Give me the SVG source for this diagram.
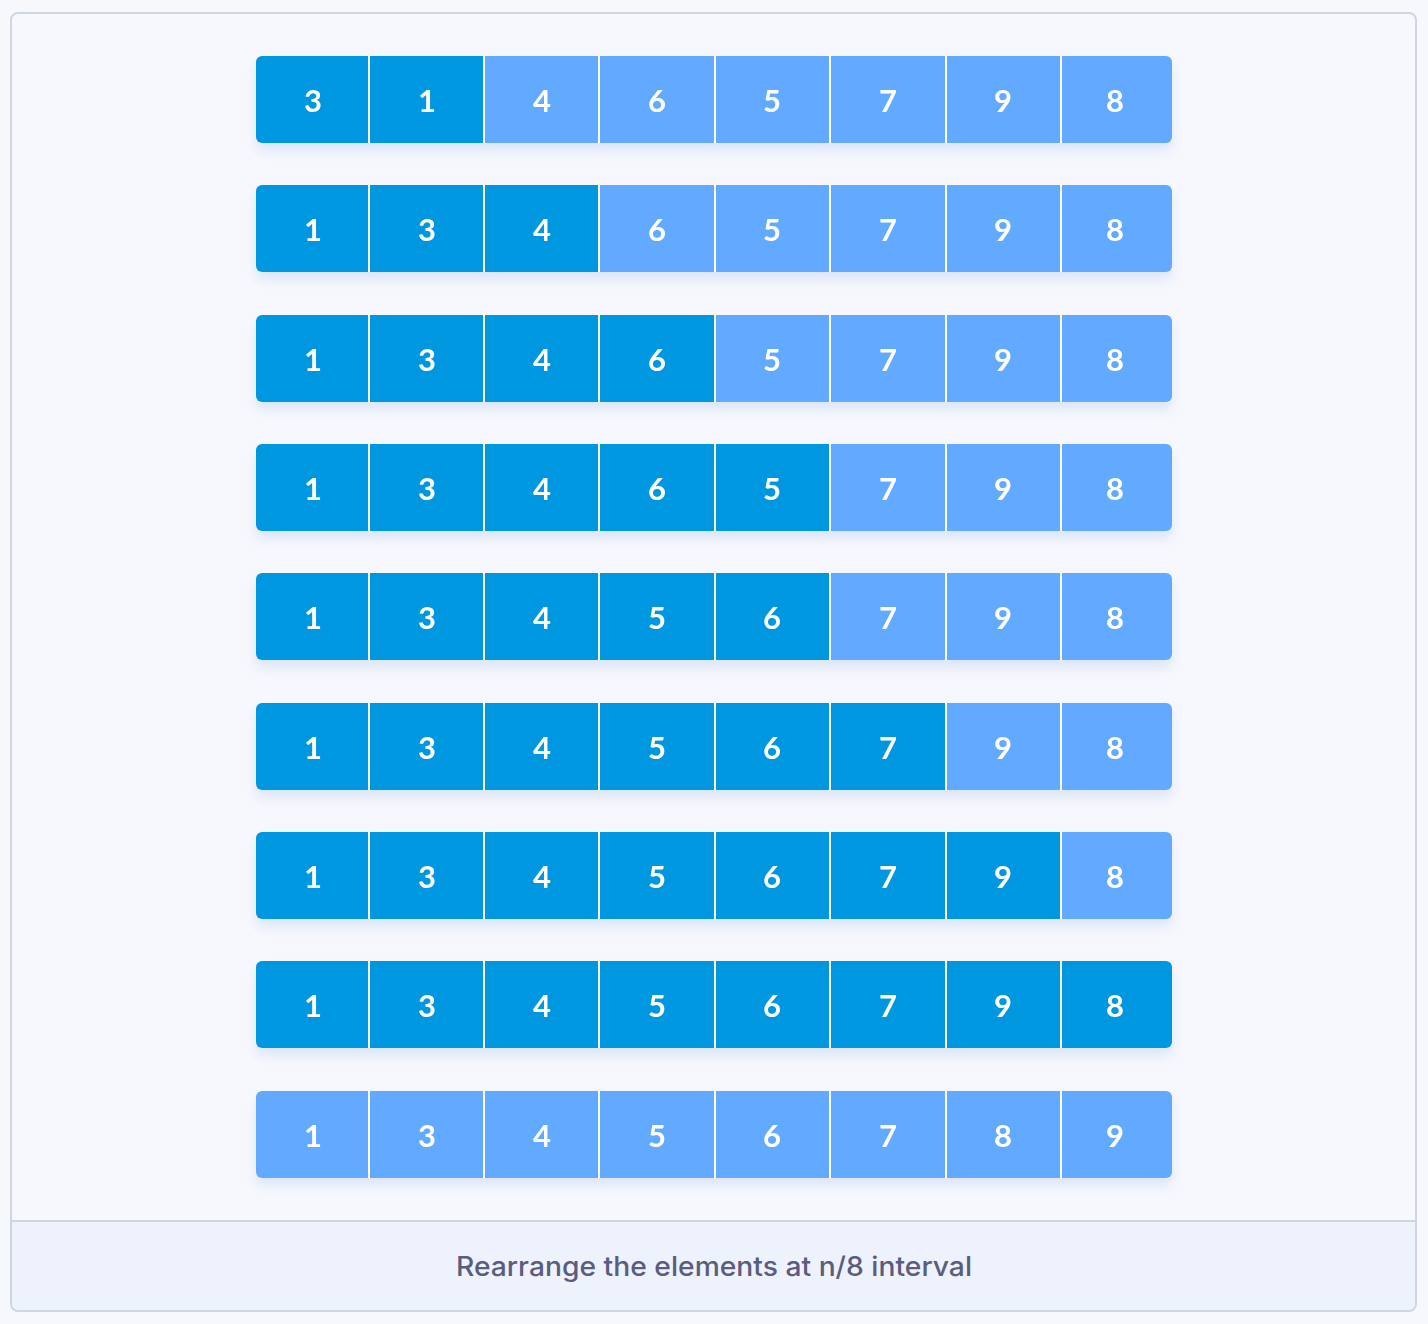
<svg xmlns="http://www.w3.org/2000/svg" width="1428" height="1324" viewBox="0 0 1428 1324">
<defs>
<style>
.d{fill:#0097e1}
.l{fill:#62aaff}
.sep{stroke:#ffffff;stroke-width:2}
.t{font-family:"Lato","Noto Sans",sans-serif;font-weight:700;font-size:31px;fill:#ffffff;text-anchor:middle;dominant-baseline:central}
.cap{font-family:"Inter","Noto Sans",sans-serif;font-weight:500;font-size:27px;fill:#5a5d7d;text-anchor:middle}
</style>
<filter id="sh" x="-10%" y="-20%" width="120%" height="160%">
<feDropShadow dx="0" dy="8" stdDeviation="6" flood-color="#aac4ee" flood-opacity="0.35"/>
</filter>
<clipPath id="rc"><rect x="0" y="0" width="916" height="87" rx="6"/></clipPath>
</defs>
<rect width="1428" height="1324" fill="#f7f8fc"/>
<rect x="11" y="13" width="1405" height="1298" rx="7" fill="#f7f8fd" stroke="#cdd6e1" stroke-width="2"/>
<path d="M12 1221 H1415 V1303 a7 7 0 0 1 -7 7 H19 a7 7 0 0 1 -7 -7 Z" fill="#eef2fd"/>
<line x1="11" y1="1221" x2="1416" y2="1221" stroke="#cdd6e1" stroke-width="2"/>
<text class="cap" x="714" y="1276" textLength="516" lengthAdjust="spacingAndGlyphs">Rearrange the elements at n/8 interval</text>

<g id="row1" transform="translate(256,56)" filter="url(#sh)">
<g clip-path="url(#rc)">
<rect class="d" x="0" y="0" width="228" height="87"/><rect class="l" x="228" y="0" width="688" height="87"/>
</g>
<g class="sep"><line x1="113" y1="0" x2="113" y2="87"/><line x1="228" y1="0" x2="228" y2="87"/><line x1="343" y1="0" x2="343" y2="87"/><line x1="459" y1="0" x2="459" y2="87"/><line x1="574" y1="0" x2="574" y2="87"/><line x1="690" y1="0" x2="690" y2="87"/><line x1="805" y1="0" x2="805" y2="87"/></g>
<text class="t" x="57" y="44">3</text><text class="t" x="171" y="44">1</text><text class="t" x="286" y="44">4</text><text class="t" x="401" y="44">6</text><text class="t" x="516" y="44">5</text><text class="t" x="632" y="44">7</text><text class="t" x="747" y="44">9</text><text class="t" x="859" y="44">8</text>
</g>

<g id="row2" transform="translate(256,185)" filter="url(#sh)">
<g clip-path="url(#rc)">
<rect class="d" x="0" y="0" width="343" height="87"/><rect class="l" x="343" y="0" width="573" height="87"/>
</g>
<g class="sep"><line x1="113" y1="0" x2="113" y2="87"/><line x1="228" y1="0" x2="228" y2="87"/><line x1="343" y1="0" x2="343" y2="87"/><line x1="459" y1="0" x2="459" y2="87"/><line x1="574" y1="0" x2="574" y2="87"/><line x1="690" y1="0" x2="690" y2="87"/><line x1="805" y1="0" x2="805" y2="87"/></g>
<text class="t" x="57" y="44">1</text><text class="t" x="171" y="44">3</text><text class="t" x="286" y="44">4</text><text class="t" x="401" y="44">6</text><text class="t" x="516" y="44">5</text><text class="t" x="632" y="44">7</text><text class="t" x="747" y="44">9</text><text class="t" x="859" y="44">8</text>
</g>

<g id="row3" transform="translate(256,315)" filter="url(#sh)">
<g clip-path="url(#rc)">
<rect class="d" x="0" y="0" width="459" height="87"/><rect class="l" x="459" y="0" width="457" height="87"/>
</g>
<g class="sep"><line x1="113" y1="0" x2="113" y2="87"/><line x1="228" y1="0" x2="228" y2="87"/><line x1="343" y1="0" x2="343" y2="87"/><line x1="459" y1="0" x2="459" y2="87"/><line x1="574" y1="0" x2="574" y2="87"/><line x1="690" y1="0" x2="690" y2="87"/><line x1="805" y1="0" x2="805" y2="87"/></g>
<text class="t" x="57" y="44">1</text><text class="t" x="171" y="44">3</text><text class="t" x="286" y="44">4</text><text class="t" x="401" y="44">6</text><text class="t" x="516" y="44">5</text><text class="t" x="632" y="44">7</text><text class="t" x="747" y="44">9</text><text class="t" x="859" y="44">8</text>
</g>

<g id="row4" transform="translate(256,444)" filter="url(#sh)">
<g clip-path="url(#rc)">
<rect class="d" x="0" y="0" width="574" height="87"/><rect class="l" x="574" y="0" width="342" height="87"/>
</g>
<g class="sep"><line x1="113" y1="0" x2="113" y2="87"/><line x1="228" y1="0" x2="228" y2="87"/><line x1="343" y1="0" x2="343" y2="87"/><line x1="459" y1="0" x2="459" y2="87"/><line x1="574" y1="0" x2="574" y2="87"/><line x1="690" y1="0" x2="690" y2="87"/><line x1="805" y1="0" x2="805" y2="87"/></g>
<text class="t" x="57" y="44">1</text><text class="t" x="171" y="44">3</text><text class="t" x="286" y="44">4</text><text class="t" x="401" y="44">6</text><text class="t" x="516" y="44">5</text><text class="t" x="632" y="44">7</text><text class="t" x="747" y="44">9</text><text class="t" x="859" y="44">8</text>
</g>

<g id="row5" transform="translate(256,573)" filter="url(#sh)">
<g clip-path="url(#rc)">
<rect class="d" x="0" y="0" width="574" height="87"/><rect class="l" x="574" y="0" width="342" height="87"/>
</g>
<g class="sep"><line x1="113" y1="0" x2="113" y2="87"/><line x1="228" y1="0" x2="228" y2="87"/><line x1="343" y1="0" x2="343" y2="87"/><line x1="459" y1="0" x2="459" y2="87"/><line x1="574" y1="0" x2="574" y2="87"/><line x1="690" y1="0" x2="690" y2="87"/><line x1="805" y1="0" x2="805" y2="87"/></g>
<text class="t" x="57" y="44">1</text><text class="t" x="171" y="44">3</text><text class="t" x="286" y="44">4</text><text class="t" x="401" y="44">5</text><text class="t" x="516" y="44">6</text><text class="t" x="632" y="44">7</text><text class="t" x="747" y="44">9</text><text class="t" x="859" y="44">8</text>
</g>

<g id="row6" transform="translate(256,703)" filter="url(#sh)">
<g clip-path="url(#rc)">
<rect class="d" x="0" y="0" width="690" height="87"/><rect class="l" x="690" y="0" width="226" height="87"/>
</g>
<g class="sep"><line x1="113" y1="0" x2="113" y2="87"/><line x1="228" y1="0" x2="228" y2="87"/><line x1="343" y1="0" x2="343" y2="87"/><line x1="459" y1="0" x2="459" y2="87"/><line x1="574" y1="0" x2="574" y2="87"/><line x1="690" y1="0" x2="690" y2="87"/><line x1="805" y1="0" x2="805" y2="87"/></g>
<text class="t" x="57" y="44">1</text><text class="t" x="171" y="44">3</text><text class="t" x="286" y="44">4</text><text class="t" x="401" y="44">5</text><text class="t" x="516" y="44">6</text><text class="t" x="632" y="44">7</text><text class="t" x="747" y="44">9</text><text class="t" x="859" y="44">8</text>
</g>

<g id="row7" transform="translate(256,832)" filter="url(#sh)">
<g clip-path="url(#rc)">
<rect class="d" x="0" y="0" width="805" height="87"/><rect class="l" x="805" y="0" width="111" height="87"/>
</g>
<g class="sep"><line x1="113" y1="0" x2="113" y2="87"/><line x1="228" y1="0" x2="228" y2="87"/><line x1="343" y1="0" x2="343" y2="87"/><line x1="459" y1="0" x2="459" y2="87"/><line x1="574" y1="0" x2="574" y2="87"/><line x1="690" y1="0" x2="690" y2="87"/><line x1="805" y1="0" x2="805" y2="87"/></g>
<text class="t" x="57" y="44">1</text><text class="t" x="171" y="44">3</text><text class="t" x="286" y="44">4</text><text class="t" x="401" y="44">5</text><text class="t" x="516" y="44">6</text><text class="t" x="632" y="44">7</text><text class="t" x="747" y="44">9</text><text class="t" x="859" y="44">8</text>
</g>

<g id="row8" transform="translate(256,961)" filter="url(#sh)">
<g clip-path="url(#rc)">
<rect class="d" x="0" y="0" width="916" height="87"/>
</g>
<g class="sep"><line x1="113" y1="0" x2="113" y2="87"/><line x1="228" y1="0" x2="228" y2="87"/><line x1="343" y1="0" x2="343" y2="87"/><line x1="459" y1="0" x2="459" y2="87"/><line x1="574" y1="0" x2="574" y2="87"/><line x1="690" y1="0" x2="690" y2="87"/><line x1="805" y1="0" x2="805" y2="87"/></g>
<text class="t" x="57" y="44">1</text><text class="t" x="171" y="44">3</text><text class="t" x="286" y="44">4</text><text class="t" x="401" y="44">5</text><text class="t" x="516" y="44">6</text><text class="t" x="632" y="44">7</text><text class="t" x="747" y="44">9</text><text class="t" x="859" y="44">8</text>
</g>

<g id="row9" transform="translate(256,1091)" filter="url(#sh)">
<g clip-path="url(#rc)">
<rect class="l" x="0" y="0" width="916" height="87"/>
</g>
<g class="sep"><line x1="113" y1="0" x2="113" y2="87"/><line x1="228" y1="0" x2="228" y2="87"/><line x1="343" y1="0" x2="343" y2="87"/><line x1="459" y1="0" x2="459" y2="87"/><line x1="574" y1="0" x2="574" y2="87"/><line x1="690" y1="0" x2="690" y2="87"/><line x1="805" y1="0" x2="805" y2="87"/></g>
<text class="t" x="57" y="44">1</text><text class="t" x="171" y="44">3</text><text class="t" x="286" y="44">4</text><text class="t" x="401" y="44">5</text><text class="t" x="516" y="44">6</text><text class="t" x="632" y="44">7</text><text class="t" x="747" y="44">8</text><text class="t" x="859" y="44">9</text>
</g>
<g id="connectors"/>
</svg>
